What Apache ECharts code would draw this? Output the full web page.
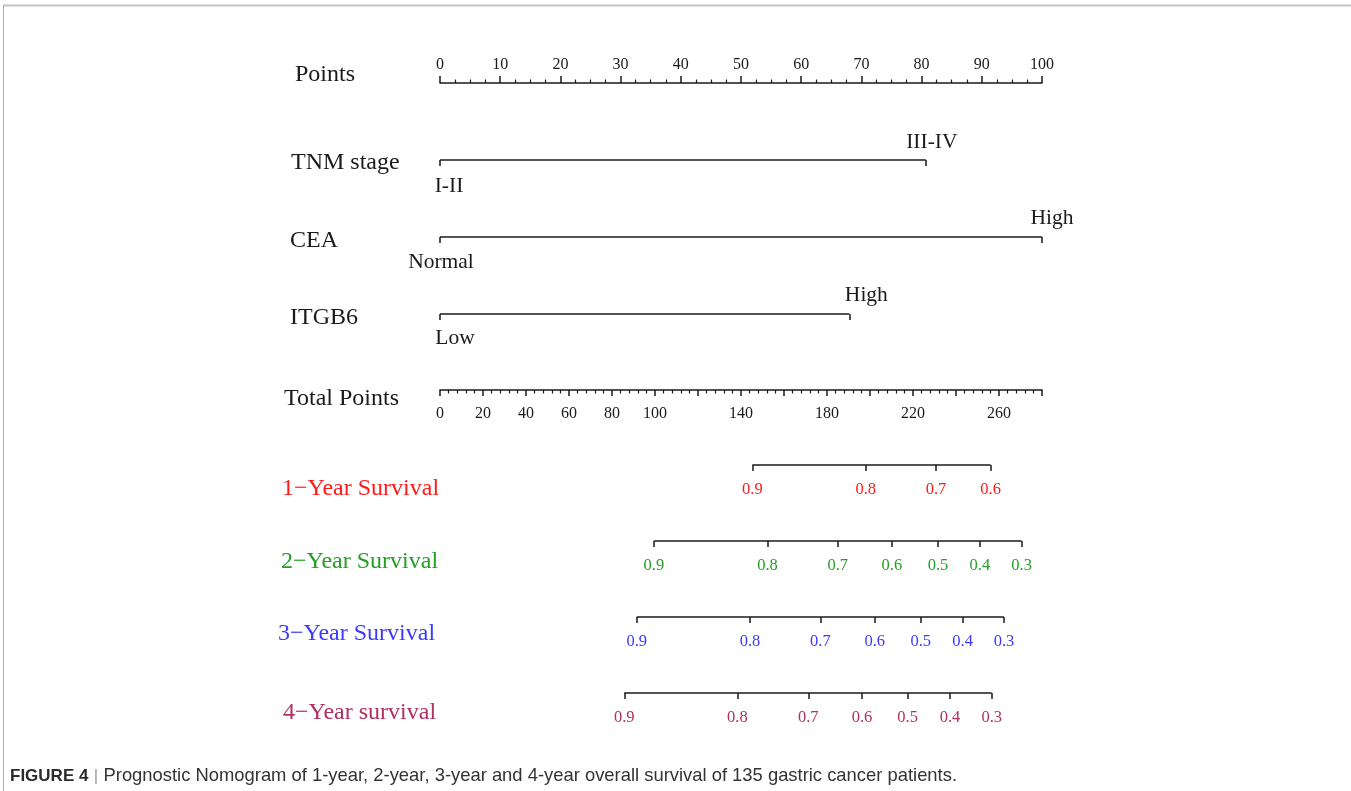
<!DOCTYPE html>
<html>
<head>
<meta charset="utf-8">
<script src="https://cdn.jsdelivr.net/npm/echarts@6/dist/echarts.min.js"></script>
<style>
html,body{margin:0;padding:0;background:#fff;}
#chart{width:1351px;height:791px;}
</style>
</head>
<body>
<div id="chart"></div>
<script>
// ---------- data ----------
const pointsMax = 100;
const totalMax = 280;
const totalLabelValues = [0, 20, 40, 60, 80, 100, 140, 180, 220, 260];
const variableNames = ['TNM stage', 'CEA', 'ITGB6'];
const levelLowNames = ['I-II', 'Normal', 'Low'];
const levelHighNames = ['III-IV', 'High', 'High'];
const levelHighPoints = [80.7, 100, 68];
const survivalNames = ['1\u2212Year Survival', '2\u2212Year Survival', '3\u2212Year Survival', '4\u2212Year survival'];
const survival1Probs = [0.9, 0.8, 0.7, 0.6];
const survival1Total = [145.3, 198.0, 230.7, 256.1];
const survival2Probs = [0.9, 0.8, 0.7, 0.6, 0.5, 0.4, 0.3];
const survival2Total = [99.5, 152.3, 185.0, 210.2, 231.6, 251.1, 270.5];
const survival3Probs = [0.9, 0.8, 0.7, 0.6, 0.5, 0.4, 0.3];
const survival3Total = [91.5, 144.2, 176.9, 202.2, 223.6, 243.1, 262.3];
const survival4Probs = [0.9, 0.8, 0.7, 0.6, 0.5, 0.4, 0.3];
const survival4Total = [85.7, 138.3, 171.3, 196.3, 217.5, 237.2, 256.6];
const captionBold = 'FIGURE 4';
const captionText = 'Prognostic Nomogram of 1-year, 2-year, 3-year and 4-year overall survival of 135 gastric cancer patients.';

// ---------- layout / style ----------
const SERIF = "'Liberation Serif','Times New Roman',serif";
const SANS = "'Liberation Sans',Arial,sans-serif";
const INK = '#1a1a1a';
const LEFT = 440, RIGHT = 1351 - 1042;
const survivalColors = ['#ff1a1a', '#23a023', '#3a3aff', '#b03060'];
const pointsY = 83;
const variableY = [160, 237, 314];
const totalY = 390;
const survivalY = [465, 541, 617, 693];
const rowNameX = [295, 291, 290, 290, 284];
const rowNameY = [76, 164, 242, 319, 400];
const survNameX = [282, 281, 278, 283];
const survNameY = [490, 563, 635, 714];
const lowLabelNudge = [[9, 26], [1, 25], [15, 24]];
const highLabelNudge = [[6, -18], [10, -19], [17, -19]];

const survivalProbs = [survival1Probs, survival2Probs, survival3Probs, survival4Probs];
const survivalTotal = [survival1Total, survival2Total, survival3Total, survival4Total];

const grids = [], xAxes = [], yAxes = [], series = [];
function addGrid(lineY, top) {
  const idx = grids.length;
  grids.push({ left: LEFT, right: RIGHT, top: top ? lineY : lineY - 10, height: 10, containLabel: false });
  yAxes.push({ type: 'value', gridIndex: idx, min: 0, max: 1, show: false });
  return idx;
}

// Points axis
let g = addGrid(pointsY, true);
xAxes.push({
  type: 'value', gridIndex: g, position: 'top', min: 0, max: pointsMax, interval: 10,
  axisLine: { show: true, onZero: false, lineStyle: { color: INK, width: 1.5 } },
  axisTick: { show: true, length: 7, lineStyle: { color: INK, width: 1.5 } },
  minorTick: { show: true, splitNumber: 4, length: 3.5, lineStyle: { color: INK, width: 1.2 } },
  splitLine: { show: false }, minorSplitLine: { show: false },
  axisLabel: { show: true, margin: 10, color: INK, fontFamily: SERIF, fontSize: 16 }
});

// Variable rows
variableNames.forEach((name, i) => {
  const gi = addGrid(variableY[i], false);
  const pts = levelHighPoints[i];
  xAxes.push({
    type: 'value', gridIndex: gi, position: 'bottom', min: 0, max: pointsMax,
    axisLine: { show: false, onZero: false },
    axisTick: { show: true, length: 6, customValues: [0, pts], lineStyle: { color: INK, width: 1.5 } },
    axisLabel: { show: false }, splitLine: { show: false }
  });
  series.push({
    type: 'line', xAxisIndex: gi, yAxisIndex: gi, clip: false, silent: true,
    symbol: 'none', lineStyle: { color: INK, width: 1.5 },
    data: [[0, 0], [pts, 0]]
  });
  const lab = { show: true, position: 'inside', color: INK, opacity: 1, fontFamily: SERIF, fontSize: 21.5, textBorderWidth: 0 };
  series.push({
    type: 'scatter', xAxisIndex: gi, yAxisIndex: gi, clip: false, silent: true,
    symbolSize: 0, itemStyle: { opacity: 1 },
    data: [
      { value: [0, 0], label: Object.assign({}, lab, { formatter: levelLowNames[i], offset: lowLabelNudge[i] }) },
      { value: [pts, 0], label: Object.assign({}, lab, { formatter: levelHighNames[i], offset: highLabelNudge[i] }) }
    ],
    label: lab
  });
});

// Total points axis
g = addGrid(totalY, false);
xAxes.push({
  type: 'value', gridIndex: g, position: 'bottom', min: 0, max: totalMax, interval: 20,
  axisLine: { show: true, onZero: false, lineStyle: { color: INK, width: 1.5 } },
  axisTick: { show: true, length: 6, lineStyle: { color: INK, width: 1.5 } },
  minorTick: { show: true, splitNumber: 5, length: 3.5, lineStyle: { color: INK, width: 1.2 } },
  splitLine: { show: false }, minorSplitLine: { show: false },
  axisLabel: { show: true, customValues: totalLabelValues, margin: 16, color: INK, fontFamily: SERIF, fontSize: 16 }
});

// Survival rows
survivalNames.forEach((name, i) => {
  const gi = addGrid(survivalY[i], false);
  const pos = survivalTotal[i];
  const probs = survivalProbs[i];
  xAxes.push({
    type: 'value', gridIndex: gi, position: 'bottom', min: 0, max: totalMax,
    axisLine: { show: false, onZero: false },
    axisTick: { show: true, length: 6, customValues: pos, lineStyle: { color: INK, width: 1.5 } },
    axisLabel: {
      show: true, customValues: pos, margin: 16, color: survivalColors[i], fontFamily: SERIF, fontSize: 16.5,
      formatter: function (v) {
        let best = 0;
        pos.forEach((p, k) => { if (Math.abs(p - v) < Math.abs(pos[best] - v)) best = k; });
        return probs[best].toFixed(1);
      }
    },
    splitLine: { show: false }
  });
  series.push({
    type: 'line', xAxisIndex: gi, yAxisIndex: gi, clip: false, silent: true,
    symbol: 'none', lineStyle: { color: INK, width: 1.5 },
    data: [[Math.min.apply(null, pos), 0], [Math.max.apply(null, pos), 0]]
  });
});

// Row names
const graphics = [];
['Points'].concat(variableNames, ['Total Points']).forEach((t, i) => {
  graphics.push({
    type: 'text', left: rowNameX[i], top: rowNameY[i] - 13,
    style: { text: t, fill: INK, font: '24px ' + SERIF }
  });
});
survivalNames.forEach((t, i) => {
  graphics.push({
    type: 'text', left: survNameX[i], top: survNameY[i] - 13,
    style: { text: t, fill: survivalColors[i], font: '24px ' + SERIF }
  });
});
// frame
graphics.push({ type: 'line', shape: { x1: 3, y1: 5.5, x2: 1351, y2: 5.5 }, style: { stroke: '#c4c4c4', lineWidth: 2 } });
graphics.push({ type: 'line', shape: { x1: 3.5, y1: 5, x2: 3.5, y2: 791 }, style: { stroke: '#b0b0b0', lineWidth: 1 } });
// caption
graphics.push({
  type: 'text', left: 10, top: 767,
  style: {
    text: '{b|' + captionBold + '} {s||} {r|' + captionText + '}',
    rich: {
      b: { font: 'bold 17px ' + SANS, fill: '#2b2b2b' },
      s: { font: '17px ' + SANS, fill: '#9a9a9a', padding: [0, 2] },
      r: { font: '18.4px ' + SANS, fill: '#333333' }
    }
  }
});

const chart = echarts.init(document.getElementById('chart'), null, { renderer: 'canvas' });
chart.setOption({
  backgroundColor: '#ffffff',
  animation: false,
  grid: grids,
  xAxis: xAxes,
  yAxis: yAxes,
  series: series,
  graphic: graphics
});
</script>
</body>
</html>
